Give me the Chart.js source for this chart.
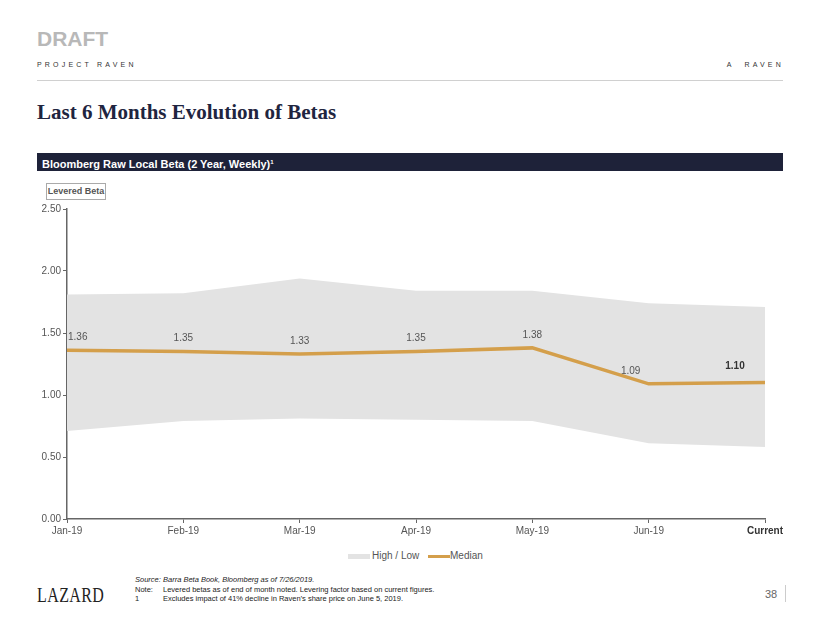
<!DOCTYPE html>
<html>
<head>
<meta charset="utf-8">
<script src="https://cdn.jsdelivr.net/npm/chart.js@4.4.1/dist/chart.umd.min.js"></script>
<style>
  body { margin: 0; background: #fff; font-family: "Liberation Sans", Arial, sans-serif; }
  .page { position: relative; width: 822px; height: 635px; overflow: hidden; }
  .abs { position: absolute; white-space: nowrap; }
  #draft { left: 37px; top: 27px; font-size: 21px; font-weight: bold; color: #b8b8b8; }
  #proj { left: 37px; top: 61px; font-size: 7px; letter-spacing: 3.2px; color: #333; }
  #raven { right: 38px; top: 61px; font-size: 7px; letter-spacing: 3.2px; color: #333; }
  #rule { left: 37px; top: 80px; width: 746px; height: 1px; background: #d0d0d0; }
  #title { left: 37px; top: 100px; font-family: "Liberation Serif", "Times New Roman", serif; font-size: 21px; font-weight: bold; color: #1f2540; }
  #bar { left: 37px; top: 153px; width: 746px; height: 18px; background: #1e2239; color: #fff; font-size: 11px; font-weight: bold; line-height: 18px; }
  #bar span { padding-left: 5px; }
  #bar sup { font-size: 6px; vertical-align: 4px; }
  #lev { left: 46px; top: 183px; width: 58px; height: 15px; border: 1px solid #aaa; font-size: 9px; font-weight: bold; color: #555; text-align: center; line-height: 15px; }
  #chartBox { left: 0; top: 196px; width: 822px; height: 342px; }
  #legend { left: 348px; top: 550px; font-size: 10px; color: #555; line-height: 12px; }
  #legend .sw { display: inline-block; width: 22px; vertical-align: middle; }
  #logo { left: 37px; top: 584px; font-family: "Liberation Serif", "Times New Roman", serif; font-size: 20px; color: #222; letter-spacing: 0.5px; transform: scaleX(0.8); transform-origin: left center; }
  .fn { font-size: 7.5px; color: #222; }
  #pg { left: 765px; top: 588px; font-size: 11px; color: #666; }
  #pgline { left: 785px; top: 585px; width: 1px; height: 17px; background: #ccc; }
</style>
</head>
<body>
<div class="page">
  <div class="abs" id="draft">DRAFT</div>
  <div class="abs" id="proj">PROJECT RAVEN</div>
  <div class="abs" id="raven">A &nbsp;RAVEN</div>
  <div class="abs" id="rule"></div>
  <div class="abs" id="title">Last 6 Months Evolution of Betas</div>
  <div class="abs" id="bar"><span>Bloomberg Raw Local Beta (2 Year, Weekly)<sup>1</sup></span></div>
  <div class="abs" id="lev">Levered Beta</div>
  <div class="abs" id="chartBox"><canvas id="betaChart"></canvas></div>
  <div class="abs" id="legend">
    <span class="sw" style="height:5px;background:#e3e3e3;"></span><span style="margin-left:2px;">High / Low</span>
    <span class="sw" style="height:3px;background:#d49f4b;margin-left:6px;"></span><span>Median</span>
  </div>
  <div class="abs" id="logo">LAZARD</div>
  <div class="abs fn" style="left:135px;top:575px;font-style:italic;">Source:</div>
  <div class="abs fn" style="left:163px;top:575px;font-style:italic;">Barra Beta Book, Bloomberg as of 7/26/2019.</div>
  <div class="abs fn" style="left:135px;top:585px;">Note:</div>
  <div class="abs fn" style="left:163px;top:585px;">Levered betas as of end of month noted. Levering factor based on current figures.</div>
  <div class="abs fn" style="left:135px;top:594px;">1</div>
  <div class="abs fn" style="left:163px;top:594px;">Excludes impact of 41% decline in Raven’s share price on June 5, 2019.</div>
  <div class="abs" id="pg">38</div>
  <div class="abs" id="pgline"></div>
</div>

<script>
const months = ["Jan-19", "Feb-19", "Mar-19", "Apr-19", "May-19", "Jun-19", "Current"];
const highBeta = [1.81, 1.82, 1.94, 1.84, 1.84, 1.74, 1.71];
const lowBeta = [0.71, 0.79, 0.81, 0.80, 0.79, 0.61, 0.58];
const medianBeta = [1.36, 1.35, 1.33, 1.35, 1.38, 1.09, 1.10];

const gold = "#d49f4b";
const band = "#e3e3e3";

// value labels above the median line
const labelPlugin = {
  id: "medianLabels",
  afterDatasetsDraw(chart) {
    const meta = chart.getDatasetMeta(2);
    const ctx = chart.ctx;
    const shift = [0, 0, 0, 0, 0, -18, -30];
    ctx.save();
    ctx.textBaseline = "middle";
    meta.data.forEach((pt, i) => {
      const last = i === medianBeta.length - 1;
      ctx.font = (last ? "bold " : "") + "10px 'Liberation Sans', Arial, sans-serif";
      ctx.fillStyle = last ? "#333" : "#555";
      ctx.textAlign = i === 0 ? "left" : "center";
      const x = pt.x + (i === 0 ? 1 : shift[i]);
      const y = pt.y - (last ? 16 : 13);
      ctx.fillText(medianBeta[i].toFixed(2), x, y);
    });
    ctx.restore();
  }
};

new Chart(document.getElementById("betaChart"), {
  type: "line",
  data: {
    labels: months,
    datasets: [
      {
        label: "High / Low",
        data: highBeta,
        borderWidth: 0,
        backgroundColor: band,
        borderColor: band,
        pointRadius: 0,
        fill: "+1"
      },
      {
        label: "Low",
        data: lowBeta,
        borderWidth: 0,
        backgroundColor: band,
        borderColor: band,
        pointRadius: 0,
        fill: false
      },
      {
        label: "Median",
        data: medianBeta,
        borderColor: gold,
        backgroundColor: gold,
        borderWidth: 3.5,
        pointRadius: 0,
        tension: 0,
        fill: false
      }
    ]
  },
  options: {
    responsive: true,
    maintainAspectRatio: false,
    animation: false,
    layout: { padding: { left: 0, right: 57, top: 13, bottom: 0 } },
    scales: {
      x: {
        offset: false,
        grid: { drawOnChartArea: false, drawTicks: true, tickLength: 4, color: "#666" },
        border: { color: "#666", width: 1.5 },
        ticks: {
          padding: 2,
          maxRotation: 0,
          autoSkip: false,
          color: (c) => (c.index === 6 ? "#333" : "#555"),
          font: (c) => ({ family: "'Liberation Sans', Arial, sans-serif", size: 10, weight: c.index === 6 ? "bold" : "normal" })
        },
        afterFit(scale) { scale.height = 19; }
      },
      y: {
        min: 0,
        max: 2.5,
        grid: { drawOnChartArea: false, drawTicks: true, tickLength: 4, color: "#666" },
        border: { color: "#666", width: 1.5 },
        ticks: {
          stepSize: 0.5,
          padding: 2,
          color: "#555",
          font: { family: "'Liberation Sans', Arial, sans-serif", size: 10 },
          callback: (v) => v.toFixed(2)
        },
        afterFit(scale) { scale.width = 67; }
      }
    },
    plugins: {
      filler: { drawTime: "beforeDatasetsDraw" },
      tooltip: { enabled: false },
      legend: { display: false }
    }
  },
  plugins: [labelPlugin]
});
</script>
</body>
</html>
